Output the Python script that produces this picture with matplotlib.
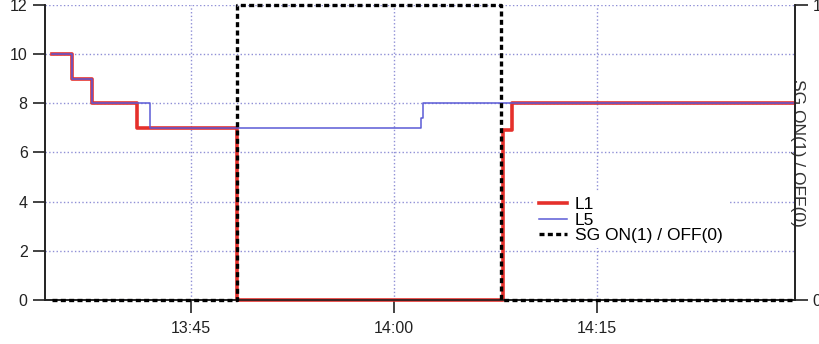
import matplotlib
matplotlib.use("Agg")
import matplotlib.pyplot as plt
import matplotlib.dates as mdates
import pandas as pd

plt.rcParams['font.family'] = ['Liberation Sans', 'DejaVu Sans']

day = "2020-01-01 "

l1_times = ["13:34:44", "13:36:12", "13:37:41", "13:41:01", "13:48:24",
            "14:08:04", "14:08:43", "14:29:30"]
l1_values = [10, 9, 8, 7, 0, 6.9, 8, 8]

l5_times = ["13:34:44", "13:36:12", "13:37:41", "13:41:58", "14:02:00",
            "14:02:10", "14:29:30"]
l5_values = [10, 9, 8, 7, 7.4, 8, 8]

sg_times = ["13:34:44", "13:48:24", "14:07:55", "14:29:30"]
sg_values = [0, 1, 0, 0]

xticks = ["13:45", "14:00", "14:15"]
x_range = ["13:34:13", "14:29:38"]


def to_dt(ts):
    return pd.to_datetime([day + t for t in ts])


fig = plt.figure(figsize=(8.19, 3.44), dpi=100)
ax = fig.add_axes([0.055, 0.128, 0.916, 0.858])
ax2 = ax.twinx()

grid_color = '#8f8fd6'
ax.grid(True, linestyle=':', color=grid_color, linewidth=1.0)
ax.set_axisbelow(True)

lr, = ax.step(to_dt(l1_times), l1_values, where='post', color='#e5302b',
              linewidth=2.6, label='L1', zorder=3, clip_on=False)
lb, = ax.step(to_dt(l5_times), l5_values, where='post', color='#5b5bd6',
              linewidth=1.1, label='L5', zorder=4, clip_on=False)
ls, = ax2.step(to_dt(sg_times), sg_values, where='post', color='black',
               linewidth=2.4, linestyle=(0, (1.5, 1.0)),
               label='SG ON(1) / OFF(0)', zorder=5, clip_on=False)

ax.set_xlim(to_dt(x_range))
ax.set_ylim(0, 12)
ax2.set_ylim(0, 1)
ax.set_yticks([0, 2, 4, 6, 8, 10, 12])
ax2.set_yticks([0, 1])
ax.set_xticks(to_dt(xticks))
ax.xaxis.set_major_formatter(mdates.DateFormatter('%H:%M'))

for a in (ax, ax2):
    a.tick_params(direction='out', length=9, width=1.2, labelsize=11.5,
                  colors='#222222')
    for sp in a.spines.values():
        sp.set_linewidth(1.2)
        sp.set_color('#222222')
    a.spines['top'].set_visible(False)
ax.tick_params(axis='x', pad=6)

ax2.set_ylabel('SG ON(1) / OFF(0)', rotation=-90, fontsize=12.5,
               color='#333333')
ax2.yaxis.set_label_coords(1.013, 0.50)

leg = ax.legend(handles=[lr, lb, ls], loc='upper left',
                bbox_to_anchor=(0.64, 0.395), frameon=True, fontsize=12.5,
                handlelength=1.6, handletextpad=0.45, labelspacing=0.0,
                borderpad=0.3)
leg.get_frame().set_edgecolor('none')
leg.get_frame().set_facecolor('white')
leg.get_frame().set_alpha(1)

fig.savefig("out.png", dpi=100)
plt.close()
